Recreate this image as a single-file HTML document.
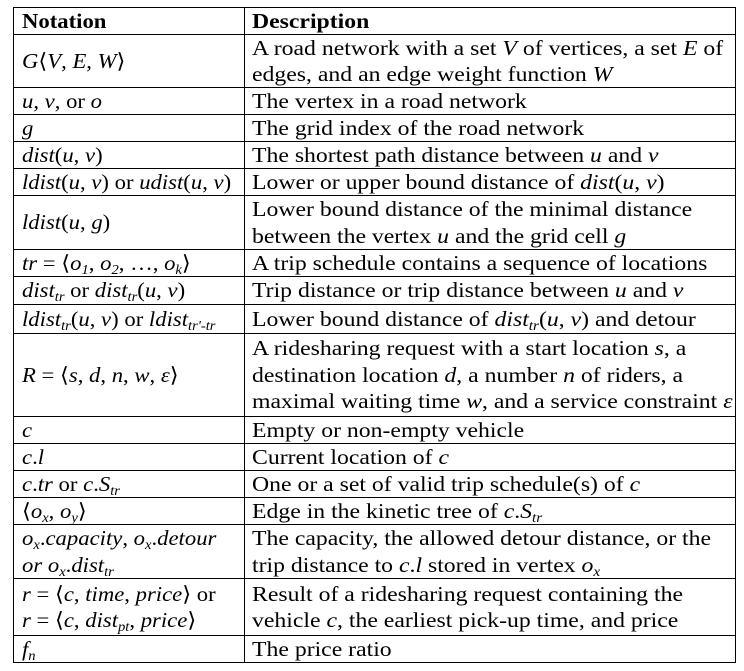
<!DOCTYPE html>
<html><head><meta charset="utf-8"><style>
html,body{margin:0;padding:0;background:#fff;width:744px;height:671px;overflow:hidden;position:relative}
body{font-family:"Liberation Serif",serif;font-size:21px;color:#000}
.h{position:absolute;left:13px;width:723px;height:1.4px;background:#000}
.v{position:absolute;top:7px;height:656px;width:1.4px;background:#000}
.c{position:absolute;display:flex;align-items:center;white-space:nowrap}
.c>div{transform-origin:left center;line-height:26.5px}
.l>div{transform:scaleX(1.08)}
.r>div{transform:scaleX(1.13)}
.l{left:22px}
.r{left:252px}
b{font-weight:bold}
sub{font-size:13.5px;vertical-align:-4px;line-height:0}
</style></head><body>
<div id="t"></div>
<script>
var ys=[7,34,87,114,141,168,195,249,276,304,333,416,443,470,497,524,578,635,662];
var rows=[
['<b>Notation</b>','<b>Description</b>'],
['<i>G</i>⟨<i>V</i>, <i>E</i>, <i>W</i>⟩','A road network with a set <i>V</i> of vertices, a set <i>E</i> of<br>edges, and an edge weight function <i>W</i>'],
['<i>u</i>, <i>v</i>, or <i>o</i>','The vertex in a road network'],
['<i>g</i>','The grid index of the road network'],
['<i>dist</i>(<i>u</i>, <i>v</i>)','The shortest path distance between <i>u</i> and <i>v</i>'],
['<i>ldist</i>(<i>u</i>, <i>v</i>) or <i>udist</i>(<i>u</i>, <i>v</i>)','Lower or upper bound distance of <i>dist</i>(<i>u</i>, <i>v</i>)'],
['<i>ldist</i>(<i>u</i>, <i>g</i>)','Lower bound distance of the minimal distance<br>between the vertex <i>u</i> and the grid cell <i>g</i>'],
['<i>tr</i> = ⟨<i>o<sub>1</sub></i>, <i>o<sub>2</sub></i>, …, <i>o<sub>k</sub></i>⟩','A trip schedule contains a sequence of locations'],
['<i>dist<sub>tr</sub></i> or <i>dist<sub>tr</sub></i>(<i>u</i>, <i>v</i>)','Trip distance or trip distance between <i>u</i> and <i>v</i>'],
['<i>ldist<sub>tr</sub></i>(<i>u</i>, <i>v</i>) or <i>ldist<sub>tr\'-tr</sub></i>','Lower bound distance of <i>dist<sub>tr</sub></i>(<i>u</i>, <i>v</i>) and detour'],
['<i>R</i> = ⟨<i>s</i>, <i>d</i>, <i>n</i>, <i>w</i>, <i>ε</i>⟩','A ridesharing request with a start location <i>s</i>, a<br>destination location <i>d</i>, a number <i>n</i> of riders, a<br>maximal waiting time <i>w</i>, and a service constraint <i>ε</i>'],
['<i>c</i>','Empty or non-empty vehicle'],
['<i>c</i>.<i>l</i>','Current location of <i>c</i>'],
['<i>c</i>.<i>tr</i> or <i>c</i>.<i>S<sub>tr</sub></i>','One or a set of valid trip schedule(s) of <i>c</i>'],
['⟨<i>o<sub>x</sub></i>, <i>o<sub>y</sub></i>⟩','Edge in the kinetic tree of <i>c</i>.<i>S<sub>tr</sub></i>'],
['<i>o<sub>x</sub></i>.<i>capacity</i>, <i>o<sub>x</sub></i>.<i>detour</i><br><i>or o<sub>x</sub></i>.<i>dist<sub>tr</sub></i>','The capacity, the allowed detour distance, or the<br>trip distance to <i>c</i>.<i>l</i> stored in vertex <i>o<sub>x</sub></i>'],
['<i>r</i> = ⟨<i>c</i>, <i>time</i>, <i>price</i>⟩ or<br><i>r</i> = ⟨<i>c</i>, <i>dist<sub>pt</sub></i>, <i>price</i>⟩','Result of a ridesharing request containing the<br>vehicle <i>c</i>, the earliest pick-up time, and price'],
['<i>f<sub>n</sub></i>','The price ratio']
];
var t=document.getElementById('t');
var html='';
for(var i=0;i<ys.length;i++){html+='<div class="h" style="top:'+(ys[i]-0.5)+'px"></div>';}
[13,244,735].forEach(function(x){html+='<div class="v" style="left:'+(x-0.5)+'px"></div>';});
for(var j=0;j<rows.length;j++){
 var yTop=ys[j]+1,hh=ys[j+1]-ys[j]-1;
 html+='<div class="c l" style="top:'+yTop+'px;height:'+hh+'px"><div>'+rows[j][0]+'</div></div>';
 html+='<div class="c r" style="top:'+yTop+'px;height:'+hh+'px"><div>'+rows[j][1]+'</div></div>';
}
t.innerHTML=html;
</script>
</body></html>
